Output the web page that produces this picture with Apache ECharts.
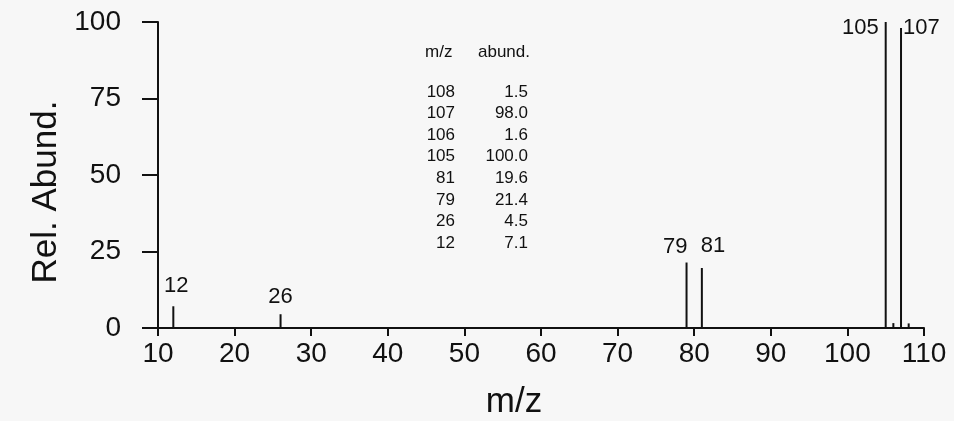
<!DOCTYPE html>
<html>
<head>
<meta charset="utf-8">
<script src="https://cdn.jsdelivr.net/npm/echarts@6/dist/echarts.min.js"></script>
<style>
html,body{margin:0;padding:0;background:#f7f7f7;}
#chart{width:954px;height:421px;}
</style>
</head>
<body>
<div id="chart"></div>
<script>
// Peaks of the spectrum
var peakMz = [12, 26, 79, 81, 105, 106, 107, 108];
var peakAbund = [7.1, 4.5, 21.4, 19.6, 100.0, 1.6, 98.0, 1.5];
var peakLabels = ['12', '26', '79', '81', '105', '', '107', ''];

// Inset table
var tableMz = ['108', '107', '106', '105', '81', '79', '26', '12'];
var tableAbund = ['1.5', '98.0', '1.6', '100.0', '19.6', '21.4', '4.5', '7.1'];
var tableHeader = ['m/z', 'abund.'];

// Axes
var xTicks = [10, 20, 30, 40, 50, 60, 70, 80, 90, 100, 110];
var yTicks = [0, 25, 50, 75, 100];
var xTitle = 'm/z';
var yTitle = 'Rel. Abund.';

var FONT = '"Liberation Sans", Arial, sans-serif';
var INK = '#111';

var labelStyles = {
  '12':  {position: 'top', distance: 9, offset: [3, 0]},
  '26':  {position: 'top', distance: 6},
  '79':  {position: 'top', distance: 5, align: 'right', offset: [1, 0]},
  '81':  {position: 'top', distance: 11, align: 'left', offset: [-1, 0]},
  '105': {position: [-6, 6], align: 'right', verticalAlign: 'middle'},
  '107': {position: [3, 0], align: 'left', verticalAlign: 'middle'}
};

var data = peakMz.map(function (m, i) {
  var lab = peakLabels[i];
  var item = {value: [m, peakAbund[i]]};
  if (lab) {
    var s = labelStyles[lab] || {position: 'top'};
    item.label = Object.assign({show: true, formatter: lab}, s);
  } else {
    item.label = {show: false};
  }
  return item;
});

var TF = '17px ' + FONT;
var graphics = [];
graphics.push({
  type: 'text', x: 425, y: 52,
  style: {text: tableHeader[0], font: TF, fill: INK, align: 'left', verticalAlign: 'middle'}
});
graphics.push({
  type: 'text', x: 478, y: 52,
  style: {text: tableHeader[1], font: TF, fill: INK, align: 'left', verticalAlign: 'middle'}
});
tableMz.forEach(function (m, i) {
  var y = 92 + i * 21.6;
  graphics.push({
    type: 'text', x: 455, y: y,
    style: {text: m, font: TF, fill: INK, align: 'right', verticalAlign: 'middle'}
  });
  graphics.push({
    type: 'text', x: 528, y: y,
    style: {text: tableAbund[i], font: TF, fill: INK, align: 'right', verticalAlign: 'middle'}
  });
});
graphics.push({
  type: 'text', x: 514, y: 402,
  style: {text: xTitle, font: '35px ' + FONT, fill: INK, align: 'center', verticalAlign: 'middle'}
});
graphics.push({
  type: 'text', x: 46, y: 192, rotation: Math.PI / 2,
  style: {text: yTitle, font: '35px ' + FONT, fill: INK, align: 'center', verticalAlign: 'middle'}
});

var chart = echarts.init(document.getElementById('chart'));
chart.setOption({
  backgroundColor: '#f7f7f7',
  animation: false,
  grid: {left: 158, right: 30, top: 22, bottom: 93, containLabel: false},
  xAxis: {
    type: 'value', min: xTicks[0], max: xTicks[xTicks.length - 1], interval: 10,
    splitLine: {show: false},
    axisLine: {show: true, onZero: false, lineStyle: {color: INK, width: 2}},
    axisTick: {show: true, length: 8, lineStyle: {color: INK, width: 2}},
    axisLabel: {color: INK, fontFamily: FONT, fontSize: 28, margin: 12}
  },
  yAxis: {
    type: 'value', min: yTicks[0], max: yTicks[yTicks.length - 1], interval: 25,
    splitLine: {show: false},
    axisLine: {show: true, lineStyle: {color: INK, width: 2}},
    axisTick: {show: true, length: 16, lineStyle: {color: INK, width: 2}},
    axisLabel: {color: INK, fontFamily: FONT, fontSize: 28, margin: 37}
  },
  series: [{
    type: 'bar',
    barWidth: 2,
    itemStyle: {color: INK},
    label: {color: INK, fontFamily: FONT, fontSize: 22},
    data: data
  }],
  graphic: graphics
});
</script>
</body>
</html>
